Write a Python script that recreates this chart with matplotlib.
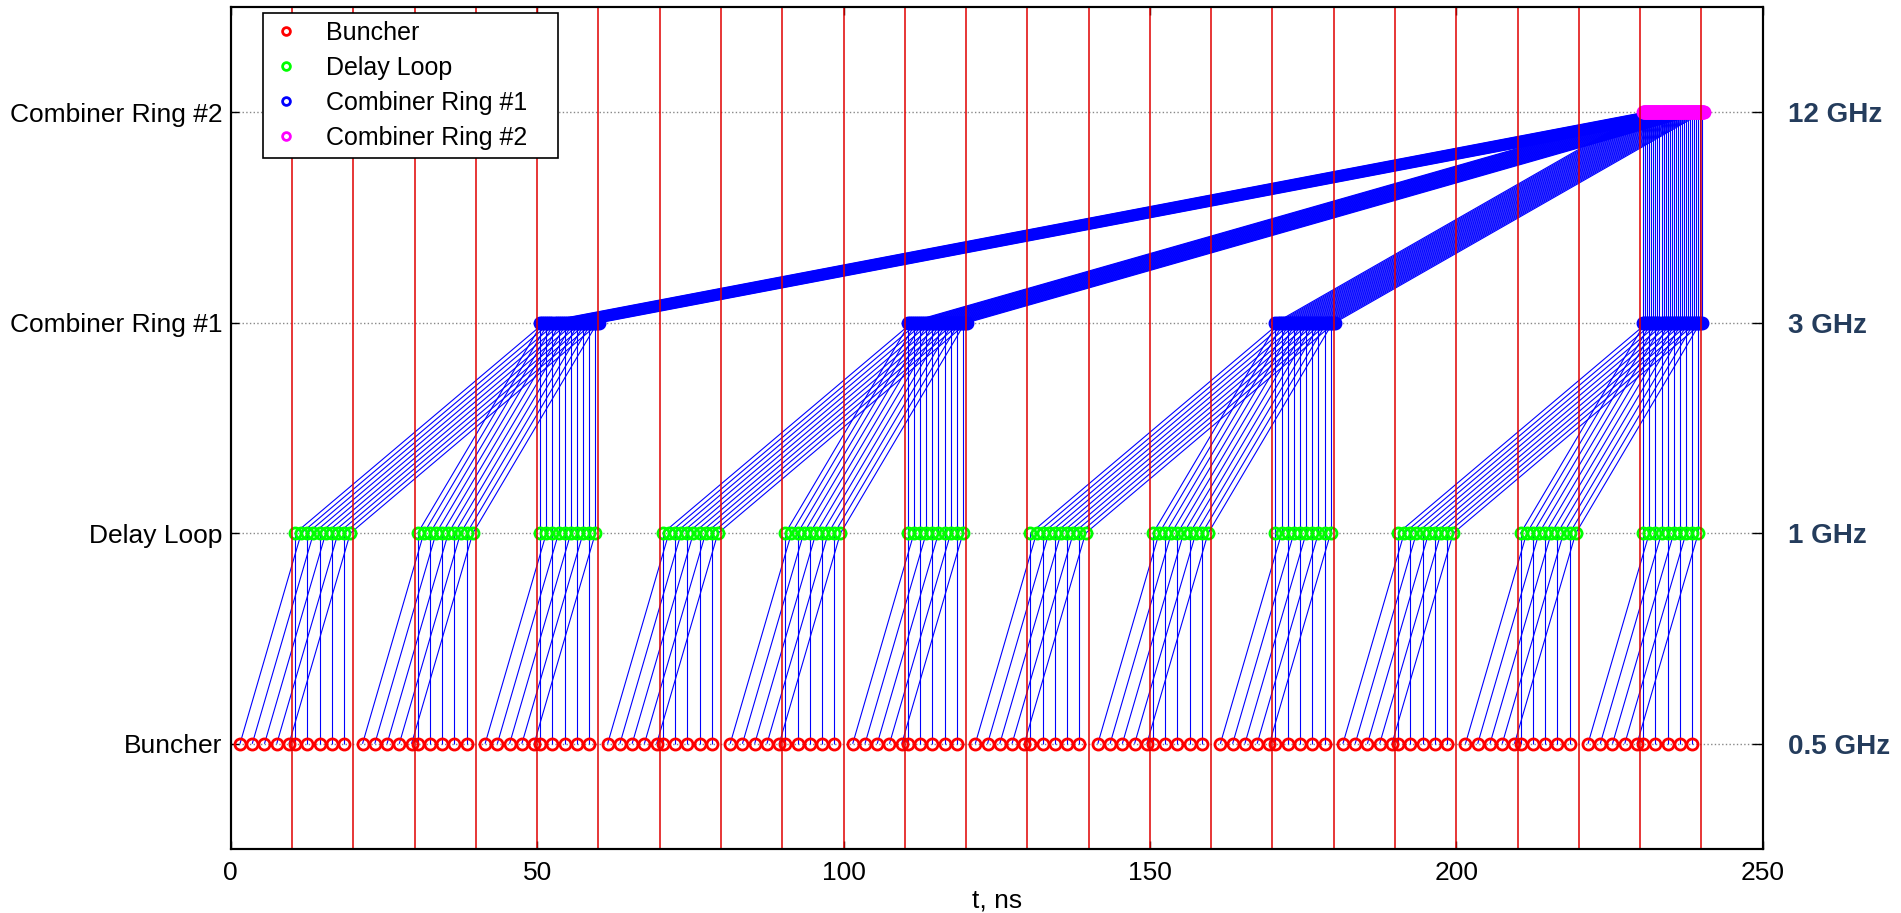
#!/usr/bin/env python3
"""
Drive beam recombination timing: buncher -> delay loop -> combiner rings
"""

import numpy as np
import matplotlib.pyplot as plt
from matplotlib.collections import LineCollection

plt.rcParams['font.family'] = ['Liberation Sans', 'DejaVu Sans']

# stage levels and labels
stage_levels = [1, 2, 3, 4]
stage_names = ['Buncher', 'Delay Loop', 'Combiner Ring #1', 'Combiner Ring #2']
stage_freqs = ['0.5 GHz', '1 GHz', '3 GHz', '12 GHz']

# buncher pulse times (ns) inside one 20 ns period, phase switched every 10 ns
train_a = [1.5, 3.5, 5.5, 7.5, 9.5]        # goes round the delay loop
train_b = [10.5, 12.5, 14.5, 16.5, 18.5]   # passes straight
period_starts = [0, 20, 40, 60, 80, 100, 120, 140, 160, 180, 200, 220]
dl_delay = 10.0

# combiner ring #1: three delay loop trains per 60 ns block
cr1_blocks = [0, 60, 120, 180]
cr1_delays = [40 + 2/3, 20 + 1/3, 0.0]

# combiner ring #2: four ring #1 trains
cr2_delays = [180 + 3/12, 120 + 2/12, 60 + 1/12, 0.0]

# phase switch markers (red verticals)
switch_times = [10, 20, 30, 40, 50, 60, 70, 80, 90, 100, 110, 120,
                130, 140, 150, 160, 170, 180, 190, 200, 210, 220, 230, 240]

xticks = [0, 50, 100, 150, 200, 250]

# ---- build pulse times and connections ----
buncher_t = []
dl_trains = []          # list of arrays, one per delay loop train
seg_b_dl = []
for p0 in period_starts:
    a = np.array(train_a) + p0
    b = np.array(train_b) + p0
    buncher_t.extend(a)
    buncher_t.extend(b)
    a_out = a + dl_delay
    for t_in, t_out in zip(a, a_out):
        seg_b_dl.append([(t_in, 1), (t_out, 2)])
    for t in b:
        seg_b_dl.append([(t, 1), (t, 2)])
    dl_trains.append(np.sort(np.concatenate([a_out, b])))

cr1_trains = []
seg_dl_cr1 = []
for k, blk in enumerate(cr1_blocks):
    out = []
    for j, d in enumerate(cr1_delays):
        tr = dl_trains[3 * k + j]
        for t in tr:
            seg_dl_cr1.append([(t, 2), (t + d, 3)])
        out.append(tr + d)
    cr1_trains.append(np.sort(np.concatenate(out)))

cr2_t = []
seg_cr1_cr2 = []
for k, d in enumerate(cr2_delays):
    for t in cr1_trains[k]:
        seg_cr1_cr2.append([(t, 3), (t + d, 4)])
        cr2_t.append(t + d)

dl_t = np.concatenate(dl_trains)
cr1_t = np.concatenate(cr1_trains)

# ---- plot ----
fig = plt.figure(figsize=(19.01, 9.13), dpi=100)
ax = fig.add_axes([0.1214, 0.0701, 0.8058, 0.9222])

lc_kw = dict(colors='#0000FF', linewidths=0.8, zorder=2)
ax.add_collection(LineCollection(seg_b_dl, **lc_kw))
ax.add_collection(LineCollection(seg_dl_cr1, **lc_kw))
ax.add_collection(LineCollection(seg_cr1_cr2, **lc_kw))

mk = dict(linestyle='none', marker='o', markerfacecolor='none',
          markersize=8, markeredgewidth=2.0, zorder=3)
ax.plot(buncher_t, np.full(len(buncher_t), 1), markeredgecolor='#FF0000',
        label='Buncher', **mk)
ax.plot(dl_t, np.full(len(dl_t), 2), markeredgecolor='#00FF00',
        label='Delay Loop', **mk)
ax.plot(cr1_t, np.full(len(cr1_t), 3), markeredgecolor='#0000FF',
        label='Combiner Ring #1', **mk)
ax.plot(cr2_t, np.full(len(cr2_t), 4), markeredgecolor='#FF00FF',
        label='Combiner Ring #2', **mk)

for t in switch_times:
    ax.axvline(t, color='#E00000', linewidth=1.1, zorder=4)

ax.set_xlim(0, 250)
ax.set_ylim(0.5, 4.5)
ax.set_xticks(xticks)
ax.set_yticks(stage_levels)
ax.set_yticklabels(stage_names)
ax.tick_params(direction='in', length=6, width=1, labelsize=19,
               top=True, right=False)
ax.tick_params(axis='y', pad=6)
ax.tick_params(axis='x', pad=9)
ax.yaxis.grid(True, linestyle=':', color='#888888', linewidth=1.0)
ax.set_axisbelow(True)
ax.set_xlabel('t, ns', fontsize=19, labelpad=2)
for s in ax.spines.values():
    s.set_linewidth(1.5)
    s.set_zorder(5)

ax2 = ax.twinx()
ax2.set_ylim(0.5, 4.5)
ax2.set_yticks(stage_levels)
ax2.set_yticklabels(stage_freqs, fontsize=20, fontweight='bold',
                    color='#243C5C')
ax2.tick_params(direction='in', length=8, width=1, pad=18)
for s in ax2.spines.values():
    s.set_linewidth(1.5)

leg = ax.legend(loc='upper left', bbox_to_anchor=(0.0213, 0.831, 0.192, 0.162),
                mode='expand', borderaxespad=0, fontsize=18, fancybox=False,
                edgecolor='black', framealpha=1, handlelength=1.2,
                handletextpad=1.0, labelspacing=0.44, borderpad=0.32,
                markerscale=0.7)
leg.get_frame().set_linewidth(1.2)
leg.set_zorder(10)

plt.savefig('out.png', dpi=100)
plt.close()
